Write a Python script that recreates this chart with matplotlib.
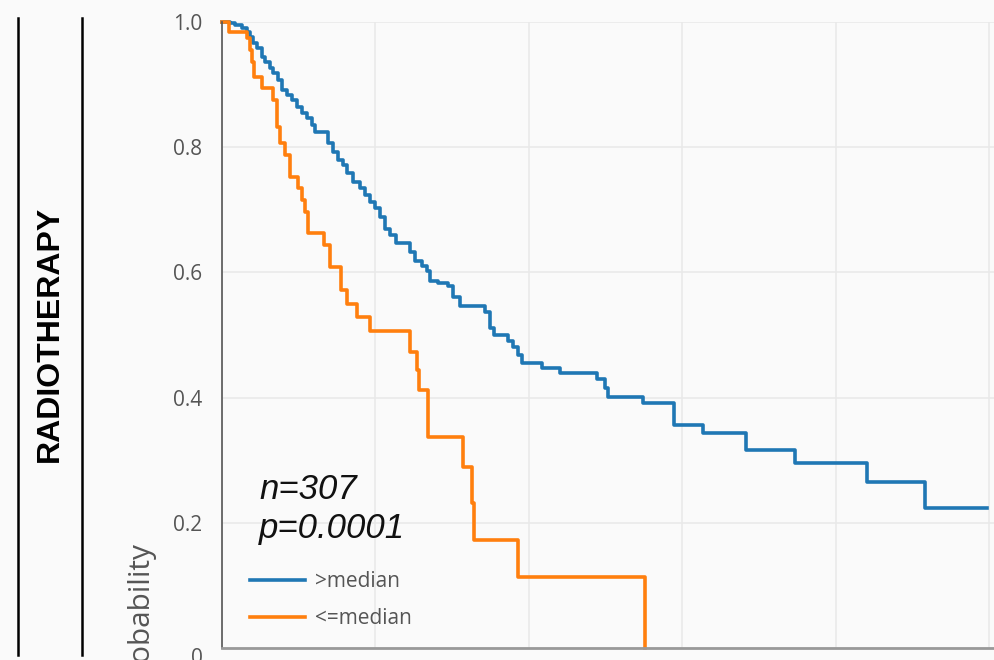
import matplotlib.pyplot as plt
from matplotlib.lines import Line2D

# Data (Kaplan-Meier steps, time in months)
high_t = [0, 2.6, 4.2, 6.5, 8.1, 9.1, 10.1, 11.4, 13.0, 14.0, 15.6, 16.6, 18.2, 19.5, 21.2,
          22.8, 24.4, 26.1, 27.7, 29.3, 30.3, 34.5, 36.2, 37.8, 39.4, 40.7, 42.7, 44.9, 46.6,
          48.2, 49.8, 51.5, 53.1, 54.7, 56.7, 61.2, 62.9, 65.1, 66.8, 67.7, 70.3, 73.6, 75.2,
          77.5, 85.7, 87.3, 88.6, 93.2, 94.8, 96.4, 97.7, 104.2, 110.1, 122.1, 124.7, 125.7,
          137.1, 147.2, 156.7, 170.7, 186.6, 210.1, 229.0, 249.2]
high_s = [1.0, 0.998, 0.995, 0.990, 0.984, 0.976, 0.966, 0.958, 0.944, 0.936, 0.927, 0.919,
          0.907, 0.891, 0.883, 0.875, 0.864, 0.855, 0.847, 0.835, 0.824, 0.807, 0.792, 0.780,
          0.772, 0.759, 0.744, 0.735, 0.724, 0.712, 0.703, 0.688, 0.669, 0.660, 0.647, 0.633,
          0.618, 0.610, 0.602, 0.586, 0.583, 0.578, 0.561, 0.546, 0.537, 0.511, 0.500, 0.490,
          0.481, 0.468, 0.455, 0.447, 0.439, 0.430, 0.415, 0.401, 0.391, 0.356, 0.343, 0.316,
          0.296, 0.265, 0.224, 0.224]

low_t = [0, 2.3, 8.1, 9.1, 9.8, 10.4, 13.0, 16.6, 17.9, 18.9, 20.5, 22.1, 24.8, 26.1, 27.0,
         28.0, 33.2, 35.2, 38.8, 40.7, 44.0, 48.2, 61.2, 63.5, 64.2, 67.1, 78.5, 81.4, 82.1,
         96.4, 137.8]
low_s = [1.0, 0.984, 0.974, 0.955, 0.936, 0.912, 0.895, 0.875, 0.832, 0.807, 0.788, 0.752,
         0.735, 0.716, 0.696, 0.663, 0.644, 0.609, 0.572, 0.550, 0.529, 0.506, 0.473, 0.444,
         0.412, 0.337, 0.289, 0.232, 0.173, 0.113, 0.0]

labels = ['>median', '<=median']
y_ticks = [0, 0.2, 0.4, 0.6, 0.8, 1.0]
y_ticklabels = ['0', '0.2', '0.4', '0.6', '0.8', '1.0']
x_ticks = [0, 50, 100, 150, 200, 250]

bg = '#fafafa'
fig = plt.figure(figsize=(9.94, 6.60), dpi=100, facecolor=bg)
ax = fig.add_axes([222 / 994, 12 / 660, 1 - 222 / 994, 626 / 660], facecolor=bg)

ax.step(high_t, high_s, where='post', color='#1f77b4', lw=2.6, clip_on=False, label=labels[0])
ax.step(low_t, low_s, where='post', color='#ff7f0e', lw=2.6, clip_on=False, label=labels[1])

ax.set_xlim(0, 251.5)
ax.set_ylim(0, 1.0)
ax.set_xticks(x_ticks)
ax.set_yticks(y_ticks)
ax.set_yticklabels(y_ticklabels)
ax.tick_params(axis='y', length=0, pad=14, labelsize=15, labelcolor='#555555')
ax.tick_params(axis='x', length=0, labelbottom=False)
for t in ax.get_yticklabels():
    t.set_family('Open Sans')
    if t.get_text() == '0':
        t.set_verticalalignment('top')

ax.grid(True, color='#e9e9e9', lw=1.1)
ax.set_axisbelow(True)
for s in ['top', 'right']:
    ax.spines[s].set_visible(False)
ax.spines['left'].set_color('#555555')
ax.spines['left'].set_linewidth(1.2)
ax.spines['bottom'].set_color('#999999')
ax.spines['bottom'].set_linewidth(2)

# annotation
ax.text(0.048, 0.222, 'n=307\np=0.0001', transform=ax.transAxes, fontsize=25,
        style='italic', family='Liberation Sans', color='#111111', va='center',
        linespacing=1.2)

leg = ax.legend(loc='upper left', bbox_to_anchor=(240 / 994, 1 - 561 / 660),
                bbox_transform=fig.transFigure, frameon=False, borderpad=0,
                handlelength=2.6, handletextpad=0.5, labelspacing=0.75,
                prop={'family': 'Open Sans', 'size': 15})
for t in leg.get_texts():
    t.set_color('#555555')

# y label, cut off at the bottom like the source
fig.text(140 / 994, 1 - 616 / 660, 'Probability', rotation=90, ha='center', va='center',
         fontsize=21.5, family='Open Sans', color='#555555')

# left side block label
fig.add_artist(Line2D([18 / 994, 18 / 994], [1 - 18 / 660, 1 - 655 / 660],
                      color='black', lw=1.8, transform=fig.transFigure))
fig.add_artist(Line2D([82 / 994, 82 / 994], [1 - 18 / 660, 1 - 655 / 660],
                      color='black', lw=1.8, transform=fig.transFigure))
fig.text(50 / 994, 1 - 334 / 660, 'RADIOTHERAPY', rotation=90, ha='center', va='center',
         fontsize=23, fontweight='bold', family='Liberation Sans', color='black')

fig.savefig('out.png', dpi=100, facecolor=bg)
